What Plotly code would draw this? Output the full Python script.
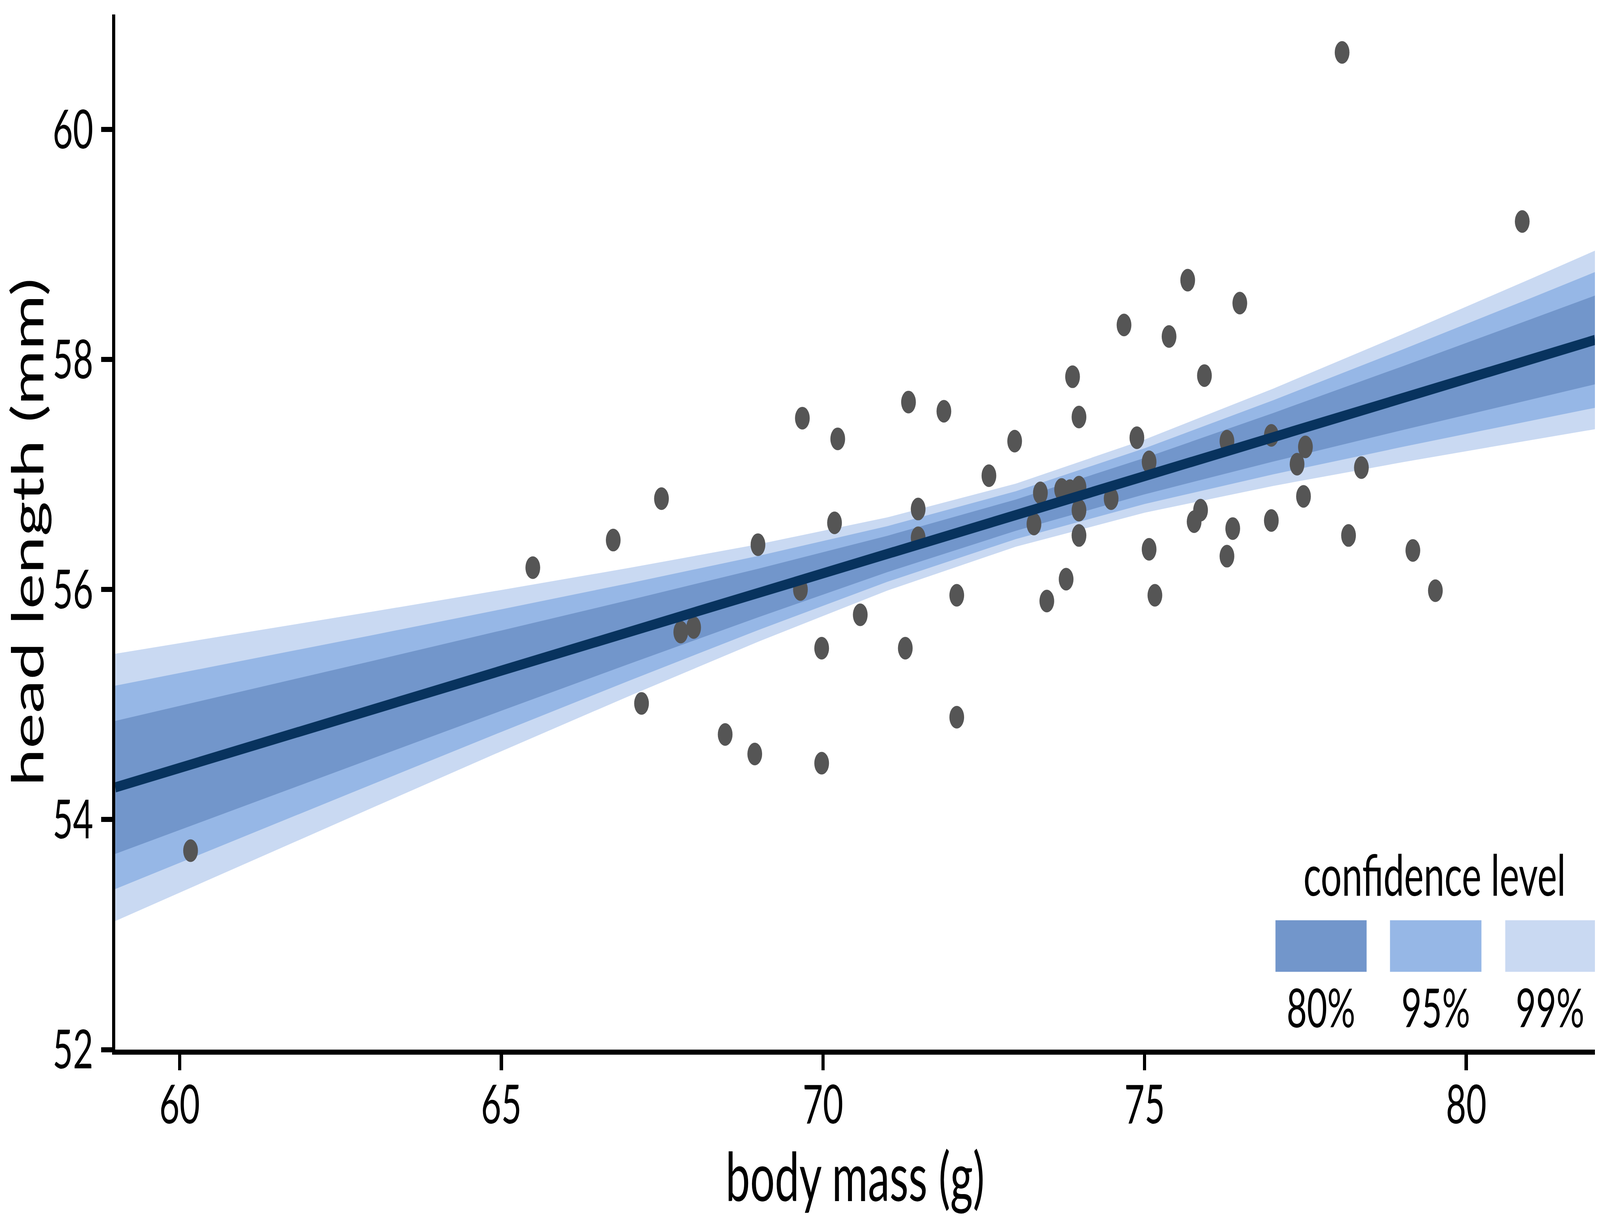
import plotly.graph_objects as go

# observed points
body_mass = [60.17, 65.49, 66.74, 67.49, 67.18, 67.79, 67.99, 68.48, 68.94, 68.99,
             69.68, 69.65, 69.98, 69.98, 70.18, 70.23, 70.58, 71.33, 71.88, 71.48,
             71.48, 71.28, 72.08, 72.08, 72.58, 72.98, 73.38, 73.28, 73.48, 73.71,
             73.78, 73.88, 73.98, 73.98, 73.84, 73.98, 73.98, 74.48, 74.68, 74.88,
             75.07, 75.07, 75.16, 75.67, 75.38, 75.93, 76.48, 76.28, 75.87, 75.77,
             76.37, 76.28, 76.97, 76.97, 77.50, 77.37, 77.47, 78.07, 78.37, 78.17,
             79.17, 79.52, 80.87]
head_length = [53.73, 56.19, 56.43, 56.79, 55.01, 55.63, 55.67, 54.74, 54.57, 56.39,
               57.49, 56.00, 55.49, 54.49, 56.58, 57.31, 55.78, 57.63, 57.55, 56.70,
               56.45, 55.49, 55.95, 54.89, 56.99, 57.29, 56.84, 56.57, 55.90, 56.87,
               56.09, 57.85, 57.50, 56.89, 56.86, 56.69, 56.47, 56.79, 58.30, 57.32,
               57.11, 56.35, 55.95, 58.69, 58.20, 57.86, 58.49, 57.29, 56.69, 56.59,
               56.53, 56.29, 57.34, 56.60, 57.24, 57.09, 56.81, 60.67, 57.06, 56.47,
               56.34, 55.99, 59.20]

# fitted line and confidence bands
fit_x = [59, 61, 63, 65, 67, 69, 71, 73, 75, 77, 79, 81, 82]
fit_y = [54.280, 54.618, 54.956, 55.295, 55.633, 55.971, 56.309, 56.647,
         56.986, 57.324, 57.662, 58.000, 58.170]
lo80 = [53.702, 54.118, 54.532, 54.946, 55.356, 55.760, 56.151, 56.511,
        56.828, 57.113, 57.385, 57.651, 57.784]
hi80 = [54.858, 55.118, 55.380, 55.644, 55.910, 56.182, 56.467, 56.783,
        57.144, 57.535, 57.939, 58.349, 58.556]
lo95 = [53.396, 53.853, 54.308, 54.762, 55.210, 55.649, 56.067, 56.439,
        56.744, 57.002, 57.239, 57.467, 57.580]
hi95 = [55.164, 55.383, 55.604, 55.828, 56.056, 56.293, 56.551, 56.855,
        57.228, 57.646, 58.085, 58.533, 58.760]
lo99 = [53.118, 53.612, 54.104, 54.594, 55.077, 55.548, 55.991, 56.373,
        56.668, 56.901, 57.106, 57.299, 57.394]
hi99 = [55.442, 55.624, 55.808, 55.996, 56.189, 56.394, 56.627, 56.921,
        57.304, 57.747, 58.218, 58.701, 58.946]

levels = ['80%', '95%', '99%']
level_colors = ['#7296CB', '#96B7E6', '#C9D9F2']

FONT = 'Lato'
W, H = 6300, 3150

fig = go.Figure()

# bands, widest first
bands = [(lo99, hi99, level_colors[2]), (lo95, hi95, level_colors[1]), (lo80, hi80, level_colors[0])]
for lo, hi, col in bands:
    fig.add_trace(go.Scatter(x=fit_x, y=lo, mode='lines', line=dict(width=0),
                             hoverinfo='skip', showlegend=False))
    fig.add_trace(go.Scatter(x=fit_x, y=hi, mode='lines', line=dict(width=0),
                             fill='tonexty', fillcolor=col, hoverinfo='skip', showlegend=False))

fig.add_trace(go.Scatter(x=body_mass, y=head_length, mode='markers',
                         marker=dict(color='#555555', size=58, line=dict(width=0)),
                         showlegend=False))

fig.add_trace(go.Scatter(x=fit_x, y=fit_y, mode='lines',
                         line=dict(color='#08335E', width=26), showlegend=False))

# manual legend (bottom right)
box_x = [(0.7841, 0.8457), (0.8615, 0.9233), (0.9394, 1.0)]
for (x0, x1), col, lab in zip(box_x, level_colors, levels):
    fig.add_shape(type='rect', xref='paper', yref='paper', x0=x0, x1=x1,
                  y0=0.0752, y1=0.125, fillcolor=col, line=dict(width=0), layer='above')
    fig.add_annotation(xref='paper', yref='paper', x=(x0 + x1) / 2, y=0.0735,
                       xanchor='center', yanchor='top', text=lab, showarrow=False,
                       font=dict(family=FONT, size=138, color='black'))
fig.add_annotation(xref='paper', yref='paper', x=0.8916, y=0.136,
                   xanchor='center', yanchor='bottom', text='confidence level',
                   showarrow=False, font=dict(family=FONT, size=146, color='black'))

fig.update_layout(
    width=W, height=H,
    margin=dict(l=454, r=20, t=37, b=462),
    plot_bgcolor='white', paper_bgcolor='white',
    font=dict(family=FONT, size=138, color='black'),
)
fig.update_xaxes(range=[59, 82], tickvals=[60, 65, 70, 75, 80],
                 showline=True, linecolor='black', linewidth=13,
                 ticks='outside', ticklen=40, tickwidth=13, tickcolor='black',
                 showgrid=False, zeroline=False, ticklabelstandoff=-30,
                 title=dict(text='body mass (g)', font=dict(size=172), standoff=40))
fig.update_yaxes(range=[52, 61], tickvals=[52, 54, 56, 58, 60],
                 showline=True, linecolor='black', linewidth=13,
                 ticks='outside', ticklen=42, tickwidth=13, tickcolor='black',
                 showgrid=False, zeroline=False, ticklabelstandoff=4,
                 title=dict(text='head length (mm)', font=dict(size=172), standoff=36))

# the 6300x3150 figure is mapped onto the actual window, in case it is not that size
fit_js = """
var gd = document.getElementById('{plot_id}');
document.documentElement.style.overflow = 'hidden';
document.body.style.margin = '0';
document.body.style.overflow = 'hidden';
var sx = window.innerWidth / %d, sy = window.innerHeight / %d;
gd.style.transformOrigin = '0 0';
gd.style.transform = 'scale(' + sx + ',' + sy + ')';
""" % (W, H)

fig.write_html("out.html", post_script=fit_js, config={'displayModeBar': False})
